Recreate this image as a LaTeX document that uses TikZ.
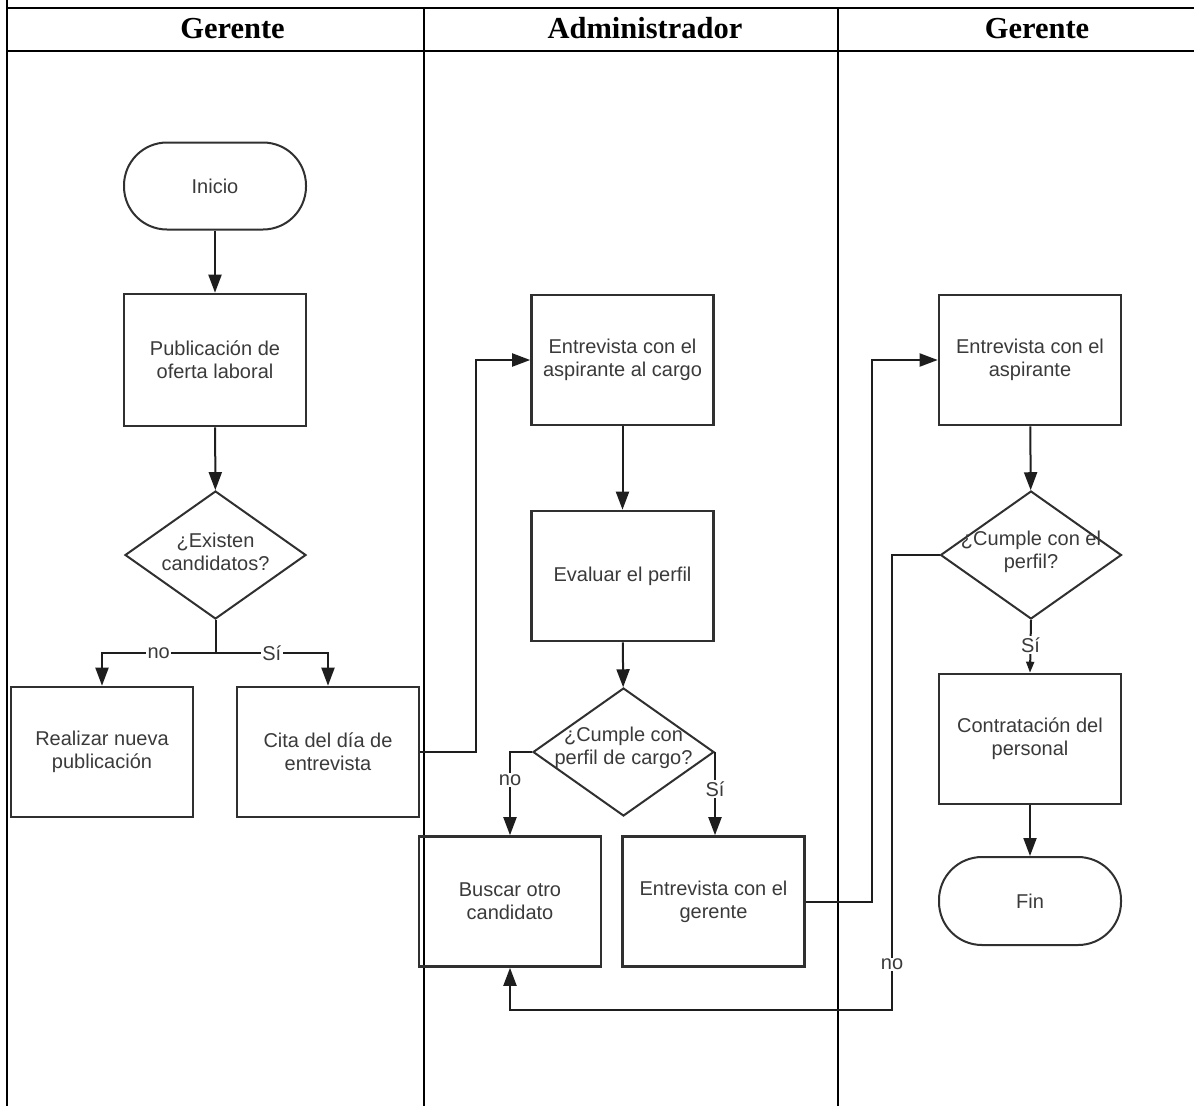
\documentclass[tikz,border=0pt]{standalone}
\usepackage{fontspec}
\setmainfont{Liberation Sans}
\newfontfamily\headfont{Liberation Serif}
\usetikzlibrary{shapes.geometric,arrows.meta}
\definecolor{boxgray}{HTML}{303030}
\definecolor{txtgray}{HTML}{3A3A3A}
\definecolor{linegray}{HTML}{1E1E1E}
\begin{document}
\begin{tikzpicture}[x=1pt,y=-1pt,
  txt/.style={font=\fontsize{20}{23}\selectfont, text=txtgray, align=center, inner sep=0pt},
  box/.style={txt, draw=boxgray, line width=2.6pt, minimum width=182pt, minimum height=130pt},
  term/.style={txt, draw=boxgray, line width=2pt, rounded corners=43pt, minimum width=182pt, minimum height=87pt},
  decision/.style={diamond, draw=boxgray, line width=2pt, inner sep=0pt, minimum width=181pt, minimum height=128pt},
  hdr/.style={font=\headfont\bfseries\fontsize{30.5}{34}\selectfont, inner sep=0pt, anchor=base},
  grid/.style={draw=black, line width=2.2pt},
  conn/.style={draw=linegray, line width=2pt},
  flow/.style={conn, -{Triangle[length=18pt,width=13pt]}},
  flowsmall/.style={conn, -{Triangle[length=11pt,width=8pt]}},
  lbl/.style={txt, fill=white, inner sep=1.5pt}]

\useasboundingbox (0,0) rectangle (1194,1106);

% swimlane table
\draw[grid] (7,0) -- (7,1106);
\draw[grid] (7,8) -- (1194,8);
\draw[grid] (7,51) -- (1194,51);
\draw[grid] (424,8) -- (424,1106);
\draw[grid] (838,8) -- (838,1106);
\node[hdr] (h1) at (232.5,38) {Gerente};
\node[hdr] (h2) at (645,38) {Administrador};
\node[hdr] (h3) at (1037,38) {Gerente};

% first lane
\node[term] (inicio) at (215,186) {Inicio};
\node[box, minimum height=132pt] (publ) at (215,360) {\raisebox{3pt}{\parbox{180pt}{\centering Publicación de\\oferta laboral}}};
\node[decision] (d1) at (215.5,555) {};
\node[txt] (d1t) at (215.5,552) {¿Existen\\candidatos?};
\node[box] (realizar) at (102,752) {\raisebox{3pt}{\parbox{180pt}{\centering Realizar nueva\\publicación}}};
\node[box] (cita) at (328,752) {\raisebox{3pt}{\parbox{180pt}{\centering Cita del día de\\entrevista}}};
\coordinate (j1) at (215.5,653);

% second lane
\node[box] (ent1) at (622.5,360) {\raisebox{3pt}{\parbox{180pt}{\centering Entrevista con el\\aspirante al cargo}}};
\node[box] (eval) at (622.5,576) {Evaluar el perfil};
\node[decision] (d2) at (623.5,752) {};
\node[txt] (d2t) at (623.5,748) {¿Cumple con\\perfil de cargo?};
\node[box] (buscar) at (510,901.5) {\raisebox{3pt}{\parbox{180pt}{\centering Buscar otro\\candidato}}};
\node[box] (ger) at (713.5,901.5) {\raisebox{3pt}{\parbox{180pt}{\centering Entrevista con el\\gerente}}};
\coordinate (c1) at (476,752);

% third lane
\node[box] (ent2) at (1030,360) {\raisebox{3pt}{\parbox{180pt}{\centering Entrevista con el\\aspirante}}};
\node[decision] (d3) at (1031,555) {};
\node[txt] (d3t) at (1031,552) {¿Cumple con el\\perfil?};
\node[box] (contr) at (1030,739) {\raisebox{3pt}{\parbox{180pt}{\centering Contratación del\\personal}}};
\node[term, minimum height=88pt] (fin) at (1030,901) {Fin};
\coordinate (c2) at (872,901.5);
\coordinate (c3) at (892,1010);

% connectors
\draw[flow] (inicio) -- (publ);
\draw[flow] (publ) -- (d1);
\draw[conn] (d1.south) -- (j1);
\draw[flow] (j1) -| node[lbl, pos=0.25] (l1) {no} (realizar.north);
\draw[flow] (j1) -| node[lbl, pos=0.25] (l2) {Sí} (cita.north);
\draw[flow] (cita.east) -- (c1) |- (ent1.west);
\draw[flow] (ent1) -- (eval);
\draw[flow] (eval) -- (d2);
\draw[flow] (d2.west) -| node[lbl, pos=0.67] (l3) {no} (buscar.north);
\draw[flow] (d2.east) -- node[lbl, pos=0.45] (l4) {Sí} (d2.east |- ger.north);
\draw[flow] (ger.east) -- (c2) |- (ent2.west);
\draw[flow] (ent2) -- (d3);
\draw[flowsmall] (d3.south) -- node[lbl, pos=0.47] (l5) {Sí} (contr.north);
\draw[flow] (d3.west) -| node[lbl, pos=0.95] (l6) {no} (c3) -| (buscar.south);
\draw[flow] (contr) -- (fin);
\end{tikzpicture}
\end{document}
